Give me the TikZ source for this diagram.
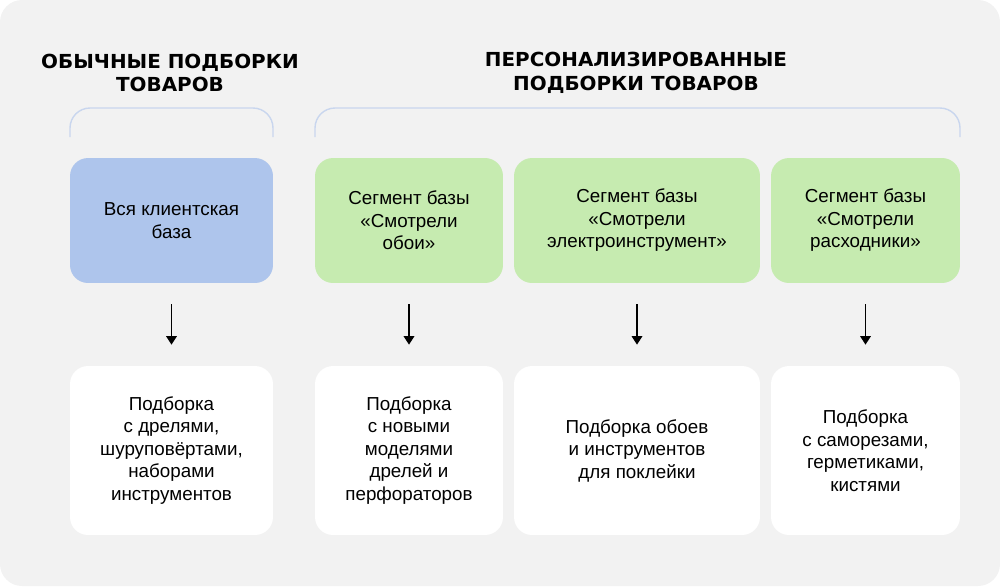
\documentclass[tikz,border=0pt]{standalone}
\usepackage{fontspec}
\setmainfont{Liberation Sans}
\newfontfamily\headfont{DejaVu Sans}[FakeStretch=1.03]
\usetikzlibrary{arrows.meta}

\definecolor{bggray}{HTML}{F2F2F2}
\definecolor{baseblue}{HTML}{AEC5EC}
\definecolor{seggreen}{HTML}{C6EBB0}
\definecolor{bracketblue}{HTML}{C9D6EE}

\tikzset{
  head/.style={align=center, font=\headfont\bfseries\fontsize{11}{13.6}\selectfont},
  box/.style={rounded corners=0.36cm, align=center, inner sep=0pt,
    font=\fontsize{10.7}{12.8}\selectfont},
  bracketline/.style={draw=bracketblue, line width=0.8pt, rounded corners=0.4cm},
  arr/.style={draw, line width=0.9pt, -{Triangle[length=1.7mm,width=2.1mm]},
    shorten <=0.42cm, shorten >=0.42cm}
}

\begin{document}
\begin{tikzpicture}[x=0.02cm,y=-0.02cm]

      \fill[bggray, rounded corners=0.44cm] (0,0) rectangle (1000,586);
      \useasboundingbox (0,0) rectangle (1000,586);

      % headings
      \node[head] (h1) at (170,73) {ОБЫЧНЫЕ ПОДБОРКИ\\ТОВАРОВ};
      \node[head] (h2) at (636,73) {ПЕРСОНАЛИЗИРОВАННЫЕ\\ПОДБОРКИ ТОВАРОВ};

      % brackets
      \draw[bracketline] (70,137) -- (70,108) -- (273,108) -- (273,137);
      \draw[bracketline] (315,137) -- (315,108) -- (960,108) -- (960,137);

      \begin{scope}[every node/.style={box, minimum height=2.5cm}]
        \node[fill=baseblue, minimum width=4.06cm] (1) at (171.5,220.5) {Вся клиентская\\база};
        \node[fill=seggreen, minimum width=3.76cm] (2) at (409,220.5) {Сегмент базы\\«Смотрели\\обои»};
        \node[fill=seggreen, minimum width=4.92cm] (3) at (637,220.5) {Сегмент базы\\«Смотрели\\электроинструмент»};
        \node[fill=seggreen, minimum width=3.78cm] (4) at (865.5,220.5) {Сегмент базы\\«Смотрели\\расходники»};
      \end{scope}

      \begin{scope}[every node/.style={box, fill=white, minimum height=3.38cm}]
        \node[minimum width=4.06cm] (5) at (171.5,450.5) {Подборка\\с дрелями,\\шуруповёртами,\\наборами\\инструментов};
        \node[minimum width=3.76cm] (6) at (409,450.5) {Подборка\\с новыми\\моделями\\дрелей и\\перфораторов};
        \node[minimum width=4.92cm] (7) at (637,450.5) {Подборка обоев\\и инструментов\\для поклейки};
        \node[minimum width=3.78cm] (8) at (865.5,450.5) {Подборка\\с саморезами,\\герметиками,\\кистями};
      \end{scope}

      \path (1) edge[arr] (5);
      \path (2) edge[arr] (6);
      \path (3) edge[arr] (7);
      \path (4) edge[arr] (8);

\end{tikzpicture}
\end{document}
